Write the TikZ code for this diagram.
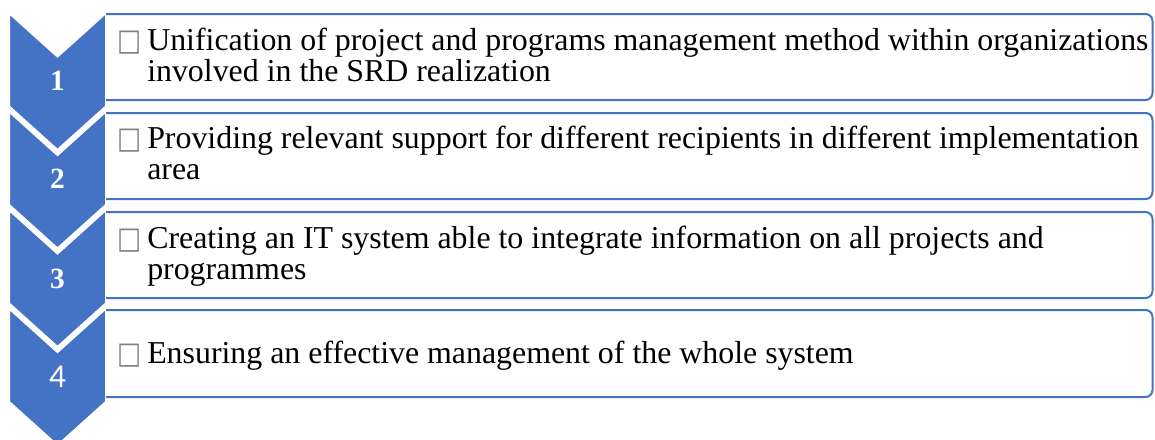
\documentclass[tikz,border=0pt]{standalone}
\usepackage{fontspec}
\setmainfont{Liberation Serif}
\newfontfamily\dejavu{DejaVu Sans}
\newfontfamily\carlito{Carlito}
\definecolor{officeblue}{HTML}{4472C4}
\definecolor{tofugray}{HTML}{7F7F7F}
\newcommand\tofubox{{\color{tofugray}\dejavu\scalebox{0.8}[0.95]{\symbol{"25A1}}}}
\newcommand\itemlead{\llap{\tofubox\hspace{4.2pt}}}
\newcommand\twolines[2]{\vtop{\hbox{\itemlead #1}\hbox{#2}}}
\begin{document}
\begin{tikzpicture}[x=0.75pt,y=-0.75pt,
  chev/.style={fill=officeblue,draw=white,line width=3.75pt,line join=miter},
  itembox/.style={draw=officeblue,line width=1.5pt,rounded corners=5.25pt},
  itemtext/.style={anchor=base west,inner sep=0pt,font=\fontsize{23.9}{23.25}\selectfont},
  num/.style={anchor=base,inner sep=0pt,text=white,font=\fontsize{22}{22}\selectfont\bfseries}]
\useasboundingbox (0,0) rectangle (1155,439);
\clip (0,0) rectangle (1155,439);
% chevrons
\foreach \c in {9.5,108,206.5,305}{
  \draw[chev] (7.5,\c) -- (57.5,\c+45) -- (107.5,\c) -- (107.5,\c+97.5)
     -- (57.5,\c+142.5) -- (7.5,\c+97.5) -- cycle;
}
% boxes (open on the left, rounded on the right)
\foreach \t/\b in {14/100,113/199,212/298,310/397}{
  \draw[itembox] (106,\t) -- (1152.5,\t) -- (1152.5,\b) -- (106,\b);
}
% numbers
\node[num] (n1) at (57.5,90) {1};
\node[num] (n2) at (57.5,188) {2};
\node[num] (n3) at (57.5,288) {3};
\node[num,font=\fontsize{25}{25}\selectfont\carlito] (n4) at (57.5,387) {4};
% texts
\node[itemtext] (t1) at (147,50.5) {\twolines{Unification of project and programs management method within organizations}{involved in the SRD realization}};
\node[itemtext] (t2) at (147,148.3) {\twolines{Providing relevant support for different recipients in different implementation}{area}};
\node[itemtext] (t3) at (147,248.3) {\twolines{Creating an IT system able to integrate information on all projects and}{programmes}};
\node[itemtext] (t4) at (147,363.3) {\itemlead Ensuring an effective management of the whole system};
\end{tikzpicture}
\end{document}
